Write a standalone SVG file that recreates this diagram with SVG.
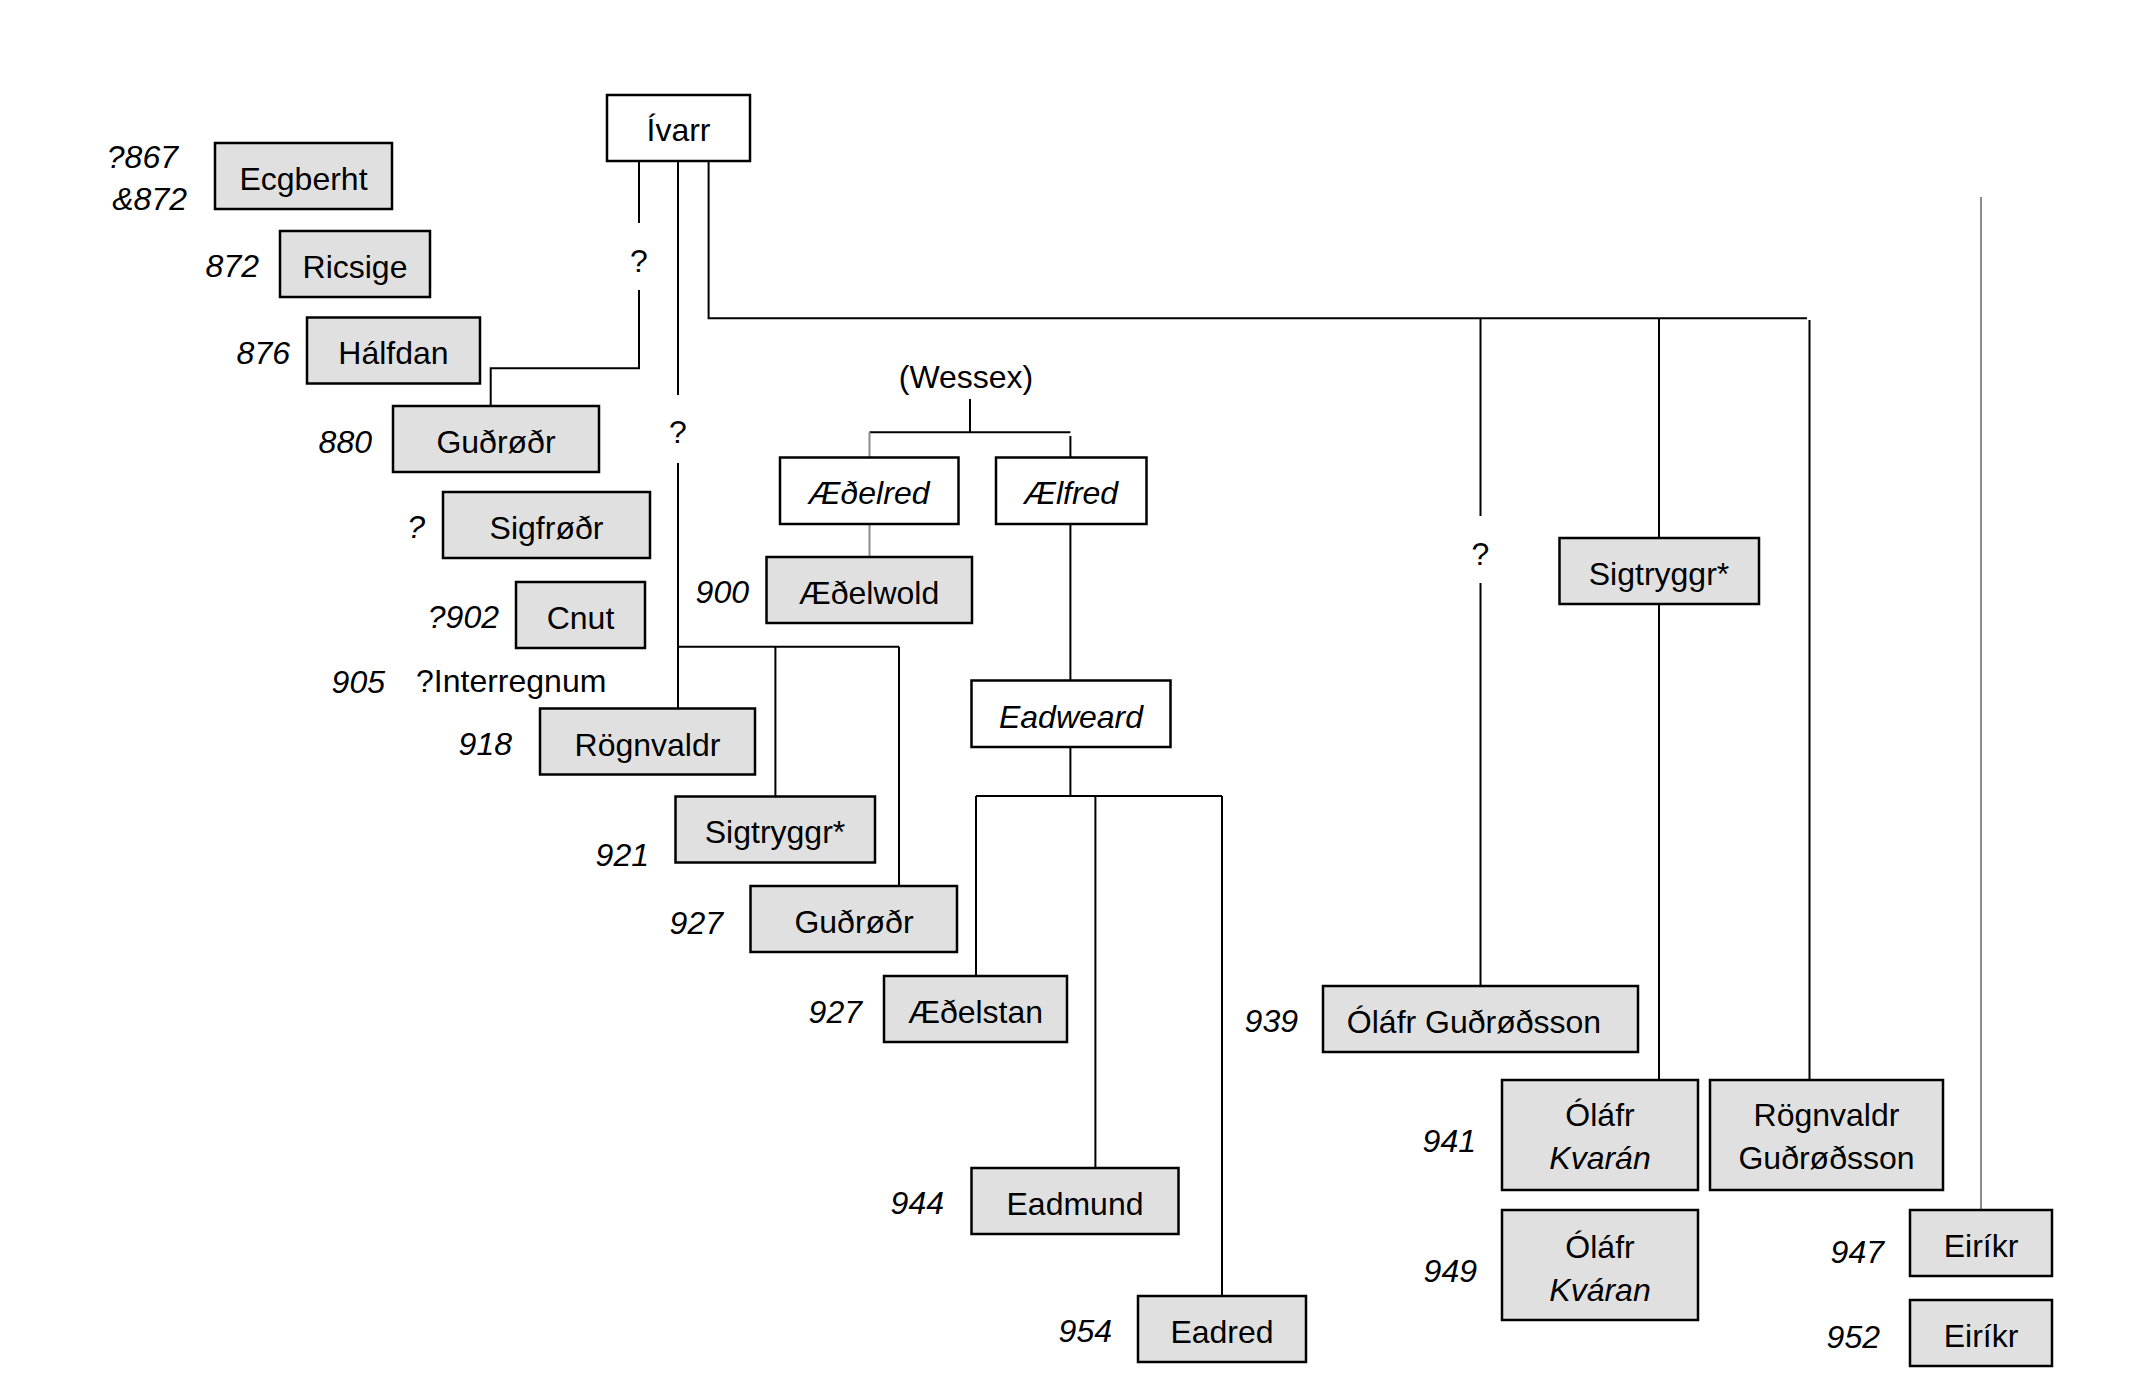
<svg xmlns="http://www.w3.org/2000/svg" width="2152" height="1400" viewBox="0 0 2152 1400">
<style>
text{font-family:"Liberation Sans",Arial,sans-serif;font-size:32px;fill:#000}
.n{fill:#e0e0e0;stroke:#000;stroke-width:2.5}
.w{fill:#fff;stroke:#000;stroke-width:2.5}
.t{text-anchor:middle}
.i{font-style:italic}
.y{font-style:italic;text-anchor:end}
.c{fill:none;stroke:#000;stroke-width:2}
.g{fill:none;stroke:#8c8c8c;stroke-width:2}
</style>
<rect width="2152" height="1400" fill="#fff"/>
<g id="connectors">
<path class="c" d="M639 161V223M639 290V368.3H490.7V406"/>
<path class="c" d="M678 161V395M678 463V708.5"/>
<path class="c" d="M678 646.7H899M775.4 646.7V796.5M899 646.7V886"/>
<path class="c" d="M708.6 161V318.3H1807M1480.5 318.3V516M1480.5 583V986M1659 318.3V538M1659 604V1080M1809.5 320V1080"/>
<path class="c" d="M970 399V432.3M869.5 432.3H1070.4M1070.4 436V457.5"/>
<path class="g" d="M869.5 432.3V457.5M869.5 524V557"/>
<path class="c" d="M1070.4 524V680.5M1070.4 747V796M976 796H1222M976 796V976M1095.4 796V1168M1222 796V1296"/>
<path class="g" d="M1981 197V1210"/>
<text class="t" x="639" y="272">?</text>
<text class="t" x="678" y="443">?</text>
<text class="t" x="1480.5" y="565">?</text>
</g>
<g id="ivarr"><rect class="w" x="607" y="95" width="143" height="66"/><text class="t" x="678.5" y="141">Ívarr</text></g>
<g id="ecgberht"><rect class="n" x="215" y="143" width="177" height="66"/><text class="t" x="303.5" y="190">Ecgberht</text><text class="y" x="178" y="168">?867</text><text class="y" x="187" y="210">&amp;872</text></g>
<g id="ricsige"><rect class="n" x="280" y="231" width="150" height="66"/><text class="t" x="355" y="278">Ricsige</text><text class="y" x="259" y="277">872</text></g>
<g id="halfdan"><rect class="n" x="307" y="317.5" width="173" height="66"/><text class="t" x="393.5" y="364">Hálfdan</text><text class="y" x="290" y="364">876</text></g>
<g id="gudrodr880"><rect class="n" x="393" y="406" width="206" height="66"/><text class="t" x="496" y="453">Guðrøðr</text><text class="y" x="372" y="453">880</text></g>
<g id="sigfrodr"><rect class="n" x="443" y="492" width="207" height="66"/><text class="t" x="546.5" y="539">Sigfrøðr</text><text class="y" x="425" y="538">?</text></g>
<g id="cnut"><rect class="n" x="516" y="582" width="129" height="66"/><text class="t" x="580.5" y="629">Cnut</text><text class="y" x="499" y="628">?902</text></g>
<g id="interregnum"><text class="y" x="385" y="693">905</text><text x="416" y="692">?Interregnum</text></g>
<g id="rognvaldr918"><rect class="n" x="540" y="708.5" width="215" height="66"/><text class="t" x="647.5" y="755.5">Rögnvaldr</text><text class="y" x="512" y="755">918</text></g>
<g id="sigtryggr921"><rect class="n" x="675.5" y="796.5" width="199.5" height="66"/><text class="t" x="775" y="843">Sigtryggr*</text><text class="y" x="649" y="866">921</text></g>
<g id="gudrodr927"><rect class="n" x="750.5" y="886" width="206.5" height="66"/><text class="t" x="854" y="933">Guðrøðr</text><text class="y" x="723" y="934">927</text></g>
<g id="aedelstan"><rect class="n" x="884" y="976" width="183" height="66"/><text class="t" x="975.5" y="1023">Æðelstan</text><text class="y" x="862" y="1023">927</text></g>
<g id="eadmund"><rect class="n" x="971.5" y="1168" width="207" height="66"/><text class="t" x="1075" y="1215">Eadmund</text><text class="y" x="944" y="1214">944</text></g>
<g id="eadred"><rect class="n" x="1138" y="1296" width="168" height="66"/><text class="t" x="1222" y="1343">Eadred</text><text class="y" x="1112" y="1342">954</text></g>
<g id="wessex"><text class="t" x="966" y="388">(Wessex)</text></g>
<g id="aedelred"><rect class="w" x="780" y="457.5" width="178.5" height="66.5"/><text class="t i" x="869" y="504">Æðelred</text></g>
<g id="aelfred"><rect class="w" x="996" y="457.5" width="150.5" height="66.5"/><text class="t i" x="1071" y="504">Ælfred</text></g>
<g id="aedelwold"><rect class="n" x="766.5" y="557" width="205.5" height="66"/><text class="t" x="869" y="604">Æðelwold</text><text class="y" x="749" y="603">900</text></g>
<g id="eadweard"><rect class="w" x="971.5" y="680.5" width="199" height="66.5"/><text class="t i" x="1071" y="727.5">Eadweard</text></g>
<g id="olafr-gudrodsson"><rect class="n" x="1323" y="986" width="315" height="66"/><text class="t" x="1474" y="1033">Óláfr Guðrøðsson</text><text class="y" x="1298" y="1032">939</text></g>
<g id="sigtryggr-right"><rect class="n" x="1559.5" y="538" width="199.5" height="66"/><text class="t" x="1659" y="585">Sigtryggr*</text></g>
<g id="olafr-kvaran941"><rect class="n" x="1502" y="1080" width="196" height="110"/><text class="t" x="1600" y="1126">Óláfr</text><text class="t i" x="1600" y="1169">Kvarán</text><text class="y" x="1476" y="1152">941</text></g>
<g id="rognvaldr-gudrodsson"><rect class="n" x="1710" y="1080" width="233" height="110"/><text class="t" x="1826.5" y="1126">Rögnvaldr</text><text class="t" x="1826.5" y="1169">Guðrøðsson</text></g>
<g id="olafr-kvaran949"><rect class="n" x="1502" y="1210" width="196" height="110"/><text class="t" x="1600" y="1257.5">Óláfr</text><text class="t i" x="1600" y="1300.5">Kváran</text><text class="y" x="1477" y="1282">949</text></g>
<g id="eirikr947"><rect class="n" x="1910" y="1210" width="142" height="66"/><text class="t" x="1981" y="1257">Eiríkr</text><text class="y" x="1884" y="1263">947</text></g>
<g id="eirikr952"><rect class="n" x="1910" y="1300" width="142" height="66"/><text class="t" x="1981" y="1347">Eiríkr</text><text class="y" x="1880" y="1348">952</text></g>
</svg>
